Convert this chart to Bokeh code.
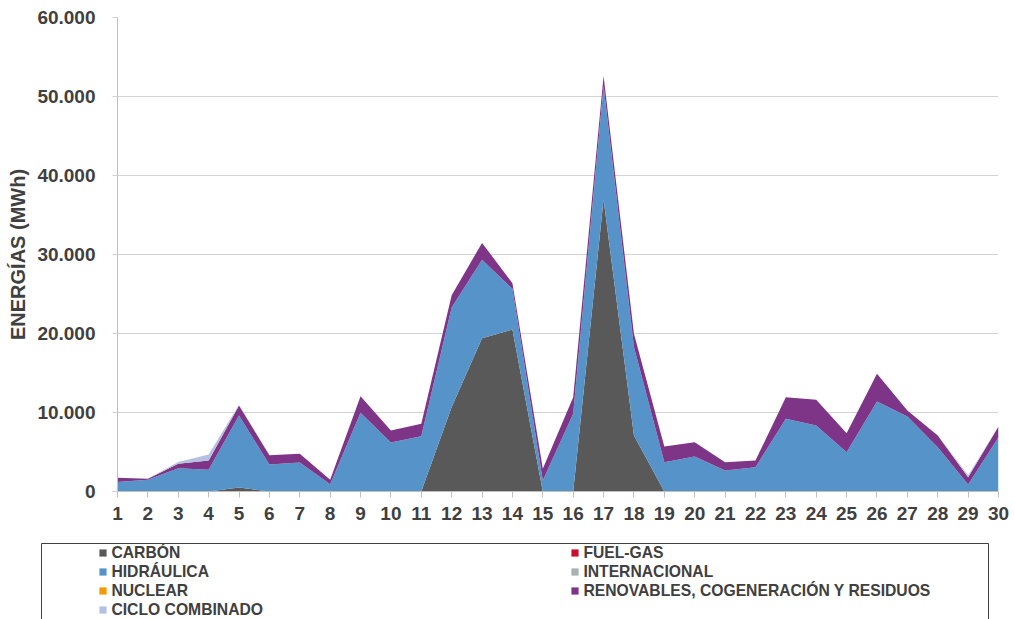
from bokeh.plotting import figure
from bokeh.layouts import column
from bokeh.models import (Range1d, FixedTicker, Legend, LegendItem, LinearAxis,
                          ColumnDataSource)
from bokeh.embed import file_html
from bokeh.resources import INLINE

days = list(range(1, 31))
carbon = [0, 0, 0, 0, 500, 0, 0, 0, 0, 0,
          0, 10700, 19400, 20500, 0, 0, 37000, 7100, 0, 0,
          0, 0, 0, 0, 0, 0, 0, 0, 0, 0]
fuel_gas = [0, 0, 0, 0, 0, 0, 0, 0, 0, 0,
            0, 0, 0, 0, 0, 0, 0, 0, 0, 0,
            0, 0, 0, 0, 0, 0, 0, 0, 0, 0]
hidraulica = [1200, 1500, 2950, 2750, 9120, 3420, 3670, 920, 9960, 6200,
              7000, 12580, 9920, 5150, 1390, 9830, 14340, 11180, 3710, 4430,
              2660, 3080, 9200, 8350, 4980, 11390, 9490, 5610, 890, 6880]
internacional = [0, 0, 0, 0, 0, 0, 0, 0, 0, 0,
                 0, 0, 0, 0, 0, 0, 0, 0, 0, 0,
                 0, 0, 0, 0, 0, 0, 0, 0, 0, 0]
nuclear = [0, 0, 0, 0, 0, 0, 0, 0, 0, 0,
           0, 0, 0, 0, 0, 0, 0, 0, 0, 0,
           0, 0, 0, 0, 0, 0, 0, 0, 0, 0]
renovables = [530, 100, 550, 1170, 1270, 1180, 1100, 560, 2110, 1520,
              1570, 1560, 2150, 720, 1480, 2110, 1270, 1690, 1990, 1810,
              1050, 840, 2740, 3250, 2400, 3500, 760, 1480, 920, 1350]
ciclo_combinado = [0, 0, 250, 750, 100, 0, 0, 0, 0, 0,
                   0, 0, 0, 0, 0, 0, 0, 0, 0, 0,
                   0, 0, 0, 0, 0, 0, 0, 0, 250, 0]

series_keys = ["carbon", "fuel_gas", "hidraulica", "internacional", "nuclear",
               "renovables", "ciclo_combinado"]
series_names = ["CARBÓN", "FUEL-GAS", "HIDRÁULICA", "INTERNACIONAL", "NUCLEAR",
                "RENOVABLES, COGENERACIÓN Y RESIDUOS", "CICLO COMBINADO"]
series_colors = ["#595959", "#C8102E", "#5593C9", "#A6B3B1", "#F39A00",
                 "#7E3587", "#B4C1E1"]

y_ticks = [0, 10000, 20000, 30000, 40000, 50000, 60000]
y_tick_labels = ["0", "10.000", "20.000", "30.000", "40.000", "50.000", "60.000"]
y_title = "ENERGÍAS (MWh)"

src = ColumnDataSource(dict(day=days, carbon=carbon, fuel_gas=fuel_gas,
                            hidraulica=hidraulica, internacional=internacional,
                            nuclear=nuclear, renovables=renovables,
                            ciclo_combinado=ciclo_combinado))

FONT = "Liberation Sans"
TXT = "#404040"

# ---------------- chart ----------------
p = figure(width=1015, height=536, output_backend="svg", toolbar_location=None,
           x_range=Range1d(1, 30), y_range=Range1d(0, 60000),
           min_border_left=117, min_border_right=17, min_border_top=17,
           min_border_bottom=45)
p.frame_align = False
p.outline_line_color = None
p.background_fill_color = "white"

rends = p.varea_stack(stackers=series_keys, x="day", source=src,
                      fill_color=series_colors)

xa = p.xaxis[0]
xa.ticker = FixedTicker(ticks=days)
xa.major_label_overrides = {d: str(d) for d in days}
xa.axis_line_color = "#BFBFBF"
xa.major_tick_line_color = "#BFBFBF"
xa.major_tick_out = 6
xa.major_tick_in = 0
xa.minor_tick_line_color = None
xa.major_label_text_font = FONT
xa.major_label_text_font_style = "bold"
xa.major_label_text_font_size = "19px"
xa.major_label_text_color = TXT
xa.major_label_standoff = 9

ya = p.yaxis[0]
ya.ticker = FixedTicker(ticks=y_ticks)
ya.major_label_overrides = dict(zip(y_ticks, y_tick_labels))
ya.axis_line_color = "#BFBFBF"
ya.major_tick_line_color = "#D0D0D0"
ya.major_tick_out = 5
ya.major_tick_in = 0
ya.minor_tick_line_color = None
ya.major_label_text_font = FONT
ya.major_label_text_font_style = "bold"
ya.major_label_text_font_size = "19px"
ya.major_label_text_color = TXT
ya.major_label_standoff = 17
ya.axis_label = y_title
ya.axis_label_text_font = FONT
ya.axis_label_text_font_style = "bold"
ya.axis_label_text_font_size = "20px"
ya.axis_label_text_color = TXT
ya.axis_label_standoff = 5

p.xgrid.grid_line_color = None
p.ygrid.grid_line_color = "#D4D4D4"
p.ygrid.grid_line_width = 1

# ---------------- legend box ----------------
p2 = figure(width=1015, height=83, output_backend="svg", toolbar_location=None,
            x_range=Range1d(0, 1), y_range=Range1d(0, 1),
            x_axis_location="above",
            min_border_left=41, min_border_right=27, min_border_top=7,
            min_border_bottom=0)
p2.frame_align = False
p2.add_layout(LinearAxis(), "right")
p2.outline_line_color = None
p2.grid.visible = False
for ax in p2.axis:
    ax.ticker = FixedTicker(ticks=[])
    ax.axis_line_color = "#404040"
    ax.axis_line_width = 1
    ax.major_tick_out = 0
    ax.major_tick_in = 0
    ax.major_tick_line_color = None
    ax.minor_tick_line_color = None
    ax.major_label_standoff = 0
    ax.axis_label_standoff = 0

leg_rends = p2.varea_stack(stackers=series_keys, x="day", source=src,
                           fill_color=series_colors)
for r in leg_rends:
    r.visible = False

items = [LegendItem(label=n, renderers=[r]) for n, r in zip(series_names, leg_rends)]
legend = Legend(items=items, location=(57.4, 0), orientation="horizontal",
                ncols=2, padding=0, margin=0, spacing=0,
                glyph_width=9, glyph_height=9, label_standoff=4,
                label_width=459, label_height=19,
                label_text_font=FONT, label_text_font_style="bold",
                label_text_font_size="15.7px", label_text_color=TXT,
                border_line_color=None, background_fill_alpha=0,
                inactive_fill_alpha=0)
p2.add_layout(legend)

layout = column(p, p2, spacing=0)
open("out.html", "w").write(file_html(layout, INLINE))
